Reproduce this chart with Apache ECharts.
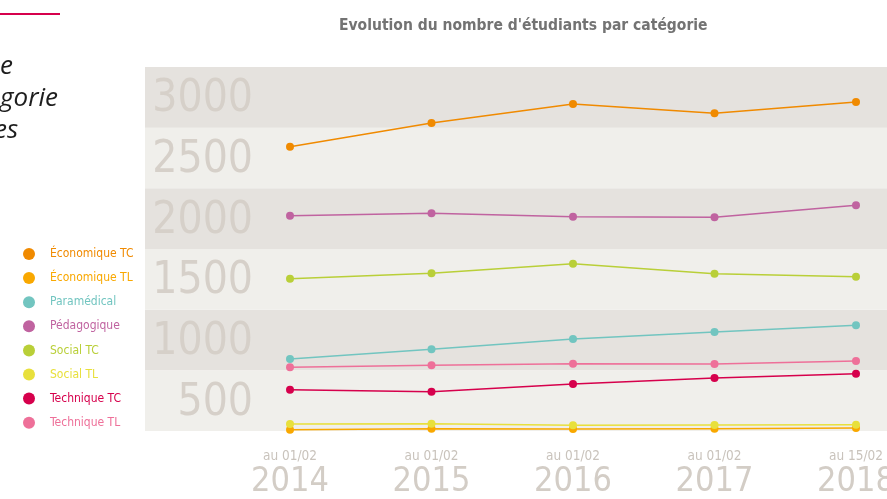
<!DOCTYPE html>
<html>
<head>
<meta charset="utf-8">
<script src="https://cdn.jsdelivr.net/npm/echarts@6/dist/echarts.min.js"></script>
<style>
html, body { margin: 0; padding: 0; background: #fff; }
#chart { width: 887px; height: 499px; }
</style>
</head>
<body>
<div id="chart"></div>
<script>
// categories
const years = ['2014', '2015', '2016', '2017', '2018'];
const dates = ['au 01/02', 'au 01/02', 'au 01/02', 'au 01/02', 'au 15/02'];

// series values
const economiqueTC = [2343, 2539, 2695, 2618, 2712];
const economiqueTL = [11, 19, 16, 19, 25];
const paramedical = [593, 673, 758, 816, 871];
const pedagogique = [1774, 1794, 1766, 1761, 1860];
const socialTC = [1255, 1300, 1379, 1297, 1272];
const socialTL = [58, 60, 47, 49, 52];
const techniqueTC = [340, 324, 387, 437, 472];
const techniqueTL = [525, 541, 555, 552, 577];

const narrow = "'Liberation Sans Narrow', 'DejaVu Sans Condensed', sans-serif";

const defs = [
    {name: 'Économique TC', color: '#f08a00', data: economiqueTC},
    {name: 'Économique TL', color: '#f9a800', data: economiqueTL},
    {name: 'Paramédical', color: '#72c5c0', data: paramedical},
    {name: 'Pédagogique', color: '#c063a0', data: pedagogique},
    {name: 'Social TC', color: '#b9cf38', data: socialTC},
    {name: 'Social TL', color: '#e8e03c', data: socialTL},
    {name: 'Technique TC', color: '#d6004c', data: techniqueTC},
    {name: 'Technique TL', color: '#ee7099', data: techniqueTL}
];

const chart = echarts.init(document.getElementById('chart'));

const option = {
    animation: false,
    title: {
        text: "Evolution du nombre d'étudiants par catégorie",
        left: 334,
        top: 13,
        textStyle: {fontFamily: narrow, fontSize: 15.5, fontWeight: 'bold', color: '#737373'}
    },
    legend: {
        orient: 'vertical',
        left: 18,
        top: 243,
        icon: 'circle',
        itemWidth: 12,
        itemHeight: 12,
        itemGap: 12.1,
        textStyle: {fontFamily: narrow, fontSize: 12, padding: [0, 0, 0, 10]},
        data: defs.map(d => ({name: d.name, textStyle: {color: d.color}}))
    },
    graphic: [
        {type: 'rect', shape: {x: 0, y: 13, width: 60, height: 2}, style: {fill: '#d6004c'}},
        {type: 'text', left: 0, top: 54, style: {text: 'e', font: 'italic 26px "Open Sans"', fill: '#1e1e1e'}},
        {type: 'text', left: 0, top: 86, style: {text: 'gorie', font: 'italic 26px "Open Sans"', fill: '#1e1e1e'}},
        {type: 'text', left: -6, top: 118, style: {text: 'es', font: 'italic 26px "Open Sans"', fill: '#1e1e1e'}}
    ],
    grid: [
        {left: 145, right: 0, top: 67, bottom: 68, outerBoundsMode: 'none'},
        {left: 290, right: 31, top: 67, bottom: 68, outerBoundsMode: 'none'}
    ],
    xAxis: [
        {gridIndex: 0, type: 'value', show: false},
        {
            gridIndex: 1,
            type: 'category',
            boundaryGap: false,
            data: years,
            axisLine: {show: false},
            axisTick: {show: false},
            axisLabel: {
                margin: 17,
                interval: 0,
                formatter: (val, idx) => '{a|' + dates[idx] + '}\n{b|' + val + '}',
                rich: {
                    a: {fontFamily: narrow, fontSize: 13.5, color: '#c9c3bc', lineHeight: 16},
                    b: {fontFamily: narrow, fontSize: 34, color: '#d3cdc6', lineHeight: 36}
                }
            }
        }
    ],
    yAxis: [
        {
            gridIndex: 0,
            type: 'value',
            min: 0,
            max: 3000,
            interval: 500,
            axisLine: {show: false},
            axisTick: {show: false},
            splitLine: {show: false},
            splitArea: {show: true, areaStyle: {color: ['#f0efeb', '#e5e2de']}},
            axisLabel: {
                inside: true,
                margin: 108,
                align: 'right',
                verticalAlign: 'top',
                padding: [11, 0, 0, 0],
                showMinLabel: false,
                formatter: v => String(v),
                fontFamily: narrow,
                fontSize: 44,
                color: '#d6d0c9'
            }
        },
        {gridIndex: 1, type: 'value', min: 0, max: 3000, show: false}
    ],
    series: defs.map(d => ({
        name: d.name,
        type: 'line',
        xAxisIndex: 1,
        yAxisIndex: 1,
        data: d.data,
        symbol: 'circle',
        symbolSize: 8,
        color: d.color,
        lineStyle: {width: 1.5, color: d.color},
        itemStyle: {color: d.color}
    }))
};

chart.setOption(option);
</script>
</body>
</html>
